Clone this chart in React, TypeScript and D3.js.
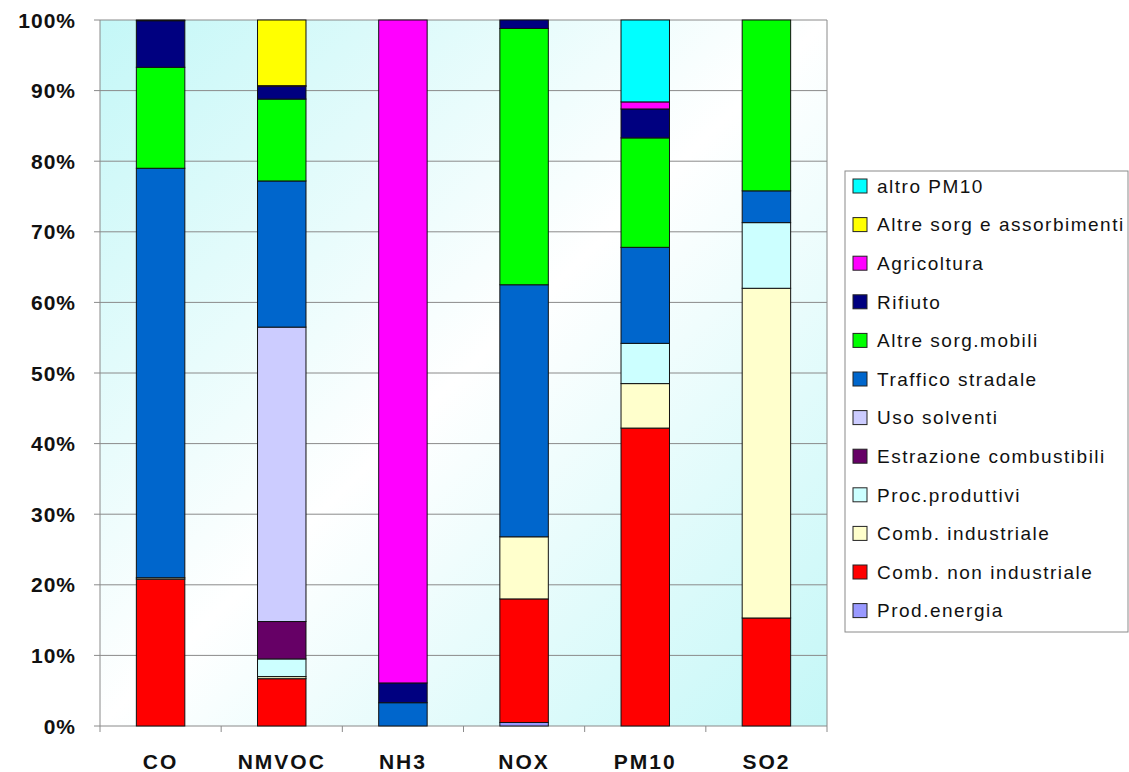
import React from "react";
import * as d3 from "d3";

const categories = ["CO", "NMVOC", "NH3", "NOX", "PM10", "SO2"];

// series, bottom to top of stack
const seriesNames = [
  "Prod.energia",
  "Comb. non industriale",
  "Comb. industriale",
  "Proc.produttivi",
  "Estrazione combustibili",
  "Uso solventi",
  "Traffico stradale",
  "Altre sorg.mobili",
  "Rifiuto",
  "Agricoltura",
  "Altre sorg e assorbimenti",
  "altro PM10",
];

const prodEnergia = [0, 0, 0, 0.5, 0, 0];
const combNonInd = [20.8, 6.7, 0, 17.5, 42.2, 15.3];
const combInd = [0.2, 0.3, 0, 8.8, 6.3, 46.7];
const procProduttivi = [0, 2.5, 0, 0, 5.7, 9.3];
const estrazione = [0, 5.3, 0, 0, 0, 0];
const usoSolventi = [0, 41.7, 0, 0, 0, 0];
const traffico = [58.0, 20.7, 3.3, 35.7, 13.6, 4.5];
const altreMobili = [14.3, 11.6, 0, 36.3, 15.5, 24.2];
const rifiuto = [6.6, 1.8, 2.8, 1.2, 4.1, 0];
const agricoltura = [0.1, 0.1, 93.9, 0, 1.0, 0];
const altreSorg = [0, 9.3, 0, 0, 0, 0];
const altroPM10 = [0, 0, 0, 0, 11.6, 0];

const seriesValues = [
  prodEnergia,
  combNonInd,
  combInd,
  procProduttivi,
  estrazione,
  usoSolventi,
  traffico,
  altreMobili,
  rifiuto,
  agricoltura,
  altreSorg,
  altroPM10,
];

const seriesColors = [
  "#9999FF",
  "#FF0000",
  "#FFFFCC",
  "#CCFFFF",
  "#660066",
  "#CCCCFF",
  "#0066CC",
  "#00FF00",
  "#000080",
  "#FF00FF",
  "#FFFF00",
  "#00FFFF",
];

const yTicks = [0, 0.1, 0.2, 0.3, 0.4, 0.5, 0.6, 0.7, 0.8, 0.9, 1.0];

export default function App() {
  const W = 1129;
  const H = 772;
  const left = 100;
  const right = 827;
  const top = 20;
  const bottom = 726;

  const rows = categories.map((c, i) => {
    const r: any = { cat: c };
    seriesNames.forEach((s, j) => (r[s] = seriesValues[j][i]));
    return r;
  });
  const stacked = d3
    .stack()
    .keys(seriesNames)
    .offset(d3.stackOffsetExpand)(rows as any);

  const x = d3.scaleBand().domain(categories).range([left, right]).paddingInner(0.6).paddingOuter(0.3);
  const xBand = d3.scaleBand().domain(categories).range([left, right]);
  const y = d3.scaleLinear().domain([0, 1]).range([bottom, top]);
  const fmt = d3.format(".0%");

  const legendItems = seriesNames.map((n, i) => ({ n, c: seriesColors[i] })).reverse();

  return (
    <svg width={W} height={H} style={{ position: "absolute", left: 0, top: 0, background: "#fff" }}>
      <defs>
        <linearGradient id="bg" x1="0" y1="0" x2="1" y2="1">
          <stop offset="0" stopColor="#c4f7f7" />
          <stop offset="0.5" stopColor="#ffffff" />
          <stop offset="1" stopColor="#c4f7f7" />
        </linearGradient>
      </defs>
      <rect x={left} y={top} width={right - left} height={bottom - top} fill="url(#bg)" />
      {yTicks.map((t) => (
        <g key={t}>
          <line x1={left - 6} x2={right} y1={y(t)} y2={y(t)} stroke="#8a8a8a" strokeWidth={1} />
          <text
            x={76}
            y={y(t)}
            dy="0.36em"
            textAnchor="end"
            fontFamily="Liberation Sans, Arial, sans-serif"
            fontWeight="bold"
            fontSize={21}
            letterSpacing={1}
            fill="#111"
          >
            {fmt(t)}
          </text>
        </g>
      ))}
      <line x1={left} x2={left} y1={top} y2={bottom + 6} stroke="#8a8a8a" />
      <line x1={right} x2={right} y1={top} y2={bottom + 6} stroke="#8a8a8a" />
      {categories.map((c, i) =>
        i > 0 ? (
          <line key={c} x1={xBand(c)} x2={xBand(c)} y1={bottom} y2={bottom + 6} stroke="#8a8a8a" />
        ) : null
      )}
      {stacked.map((s, si) =>
        s.map((d: any, ci) => {
          const h = y(d[0]) - y(d[1]);
          if (h <= 0) return null;
          return (
            <rect
              key={si + "-" + ci}
              x={x(categories[ci])}
              y={y(d[1])}
              width={x.bandwidth()}
              height={h}
              fill={seriesColors[si]}
              stroke="#111"
              strokeWidth={1}
            />
          );
        })
      )}
      {categories.map((c) => (
        <text
          key={c}
          x={(xBand(c) as number) + xBand.bandwidth() / 2}
          y={769}
          textAnchor="middle"
          fontFamily="Liberation Sans, Arial, sans-serif"
          fontWeight="bold"
          fontSize={21}
          letterSpacing={2}
          fill="#111"
        >
          {c}
        </text>
      ))}
      <rect x={845} y={171} width={283} height={461} fill="#fff" stroke="#8a8a8a" strokeWidth={1} />
      {legendItems.map((it, i) => {
        const cy = 186 + i * 38.6;
        return (
          <g key={it.n}>
            <rect x={853} y={cy - 7} width={14} height={14} fill={it.c} stroke="#222" strokeWidth={1} />
            <text
              x={877}
              y={cy}
              dy="0.36em"
              fontFamily="Liberation Sans, Arial, sans-serif"
              fontSize={19}
              letterSpacing={1.5}
              fill="#111"
            >
              {it.n}
            </text>
          </g>
        );
      })}
    </svg>
  );
}
